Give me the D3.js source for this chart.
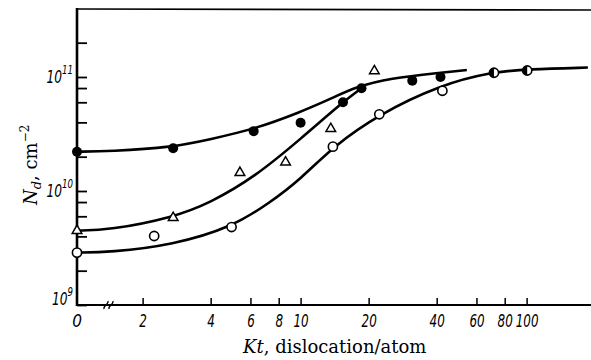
<!DOCTYPE html>
<html>
<head>
<meta charset="utf-8">
<script src="https://cdn.jsdelivr.net/npm/d3@7"></script>
<style>
  body { margin: 0; background: #fff; }
  svg { display: block; }
  .tick-lbl { font-family: 'Liberation Sans Narrow', 'DejaVu Sans Condensed', 'Liberation Sans', sans-serif; font-style: italic; }
  .title { font-family: 'DejaVu Serif', 'Liberation Serif', serif; }
</style>
</head>
<body>
<svg id="chart" width="591" height="360"></svg>
<script>
// measured points (Kt = 0 sits on the axis)
const filledKt = [0, 2.73, 6.2, 10.0, 15.4, 18.6, 31.2, 41.6];
const filledNd = [2.21e10, 2.37e10, 3.35e10, 3.97e10, 6.0e10, 7.96e10, 9.29e10, 1.0e11];

const triKt = [0, 2.73, 5.39, 8.58, 13.6, 21.2];
const triNd = [4.49e9, 5.83e9, 1.45e10, 1.79e10, 3.52e10, 1.13e11];

const openKt = [0, 2.25, 4.95, 13.9, 22.3, 42.4];
const openNd = [2.88e9, 4.03e9, 4.83e9, 2.45e10, 4.71e10, 7.57e10];

const halfKt = [71.7, 100.6];
const halfNd = [1.09e11, 1.14e11];

// fitted curves
const curveAKt = [0, 1.43, 2.72, 3.97, 6.28, 10, 13.5, 17.7, 24.8, 41.3, 54.4];
const curveANd = [2.21e10, 2.23e10, 2.42e10, 2.84e10, 3.5e10, 4.93e10, 6.41e10, 8.22e10, 9.75e10, 1.09e11, 1.15e11];

const curveBKt = [0, 1.43, 2.72, 3.97, 6.28, 10, 15.4, 18.6];
const curveBNd = [4.49e9, 4.55e9, 5.86e9, 7.85e9, 1.33e10, 2.86e10, 6.04e10, 7.96e10];

const curveCKt = [0, 1.43, 2.72, 5.02, 7.31, 10, 13.9, 22.2, 41.3, 70.9, 101, 186.7];
const curveCNd = [2.88e9, 2.9e9, 3.36e9, 4.86e9, 7.9e9, 1.27e10, 2.45e10, 4.71e10, 8.51e10, 1.11e11, 1.17e11, 1.21e11];

const xTicks = [2, 4, 6, 8, 10, 20, 40, 60, 80, 100];
const xTickLabels = ["2", "4", "6", "8", "10", "20", "40", "60", "80", "100"];
const yMinor = [1e9, 2e9, 4e9, 6e9, 8e9, 1e10, 2e10, 4e10, 6e10, 8e10, 1e11, 2e11];
const yLabelVals = [1e9, 1e10, 1e11];
const yLabelExp = ["9", "10", "11"];

const svg = d3.select("#chart");

const x = d3.scaleLog().domain([1.025, 192.7]).range([77, 591]);
const y = d3.scaleLog().domain([1e9, 3.87e11]).range([305, 10]);
const px = v => v === 0 ? x.range()[0] : x(v);

const zip = (a, b) => a.map((v, i) => [v, b[i]]);

// frame
svg.append("line").attr("x1", 77).attr("x2", 591).attr("y1", 9).attr("y2", 10)
  .attr("stroke", "#000").attr("stroke-width", 1.6);
svg.append("line").attr("x1", 77).attr("x2", 77).attr("y1", 8).attr("y2", 306)
  .attr("stroke", "#000").attr("stroke-width", 2.6);
svg.append("line").attr("x1", 76).attr("x2", 591).attr("y1", 305).attr("y2", 305)
  .attr("stroke", "#000").attr("stroke-width", 2);

// x axis
const xAxis = svg.append("g").attr("transform", "translate(0,305)")
  .call(d3.axisBottom(x).tickValues(xTicks).tickSize(-7).tickPadding(10)
    .tickFormat((d, i) => xTickLabels[i]));
xAxis.select(".domain").remove();
xAxis.selectAll(".tick line").attr("stroke-width", 1.5);
xAxis.selectAll("text").attr("class", "tick-lbl").attr("font-size", 17).attr("fill", "#000")
  .attr("transform", "scale(0.78,1)");
xAxis.append("text").attr("class", "tick-lbl").attr("x", 77).attr("y", 10).attr("dy", "0.71em")
  .attr("text-anchor", "middle").attr("font-size", 17).attr("fill", "#000").text("0");

// axis break marks
[106, 111].forEach(cx => {
  svg.append("path")
    .attr("d", `M${cx - 2},${309} C${cx - 3},${305} ${cx + 3},${305} ${cx + 2},${301}`)
    .attr("fill", "none").attr("stroke", "#000").attr("stroke-width", 1.4);
});

// y axis
const yAxis = svg.append("g").attr("transform", "translate(77,0)")
  .call(d3.axisLeft(y).tickValues(yMinor).tickSize(-10).tickFormat(""));
yAxis.select(".domain").remove();
yAxis.selectAll(".tick line").attr("stroke-width", 1.8);

yLabelVals.forEach((v, i) => {
  const t = svg.append("g").attr("transform", `translate(73,${y(v) + (i === 0 ? 0 : 6)})`)
    .append("text").attr("class", "tick-lbl").attr("font-size", 17)
    .attr("text-anchor", "end").attr("transform", "scale(0.8,1)");
  t.append("tspan").text("10");
  t.append("tspan").attr("dy", -9).attr("font-size", 12).text(yLabelExp[i]);
});

// curves
const line = d3.line().x(d => px(d[0])).y(d => y(d[1])).curve(d3.curveBasis);
[zip(curveAKt, curveANd), zip(curveBKt, curveBNd), zip(curveCKt, curveCNd)].forEach(c => {
  svg.append("path").attr("d", line(c)).attr("fill", "none")
    .attr("stroke", "#000").attr("stroke-width", 2.6);
});

// markers
svg.append("g").selectAll("circle").data(zip(filledKt, filledNd)).join("circle")
  .attr("cx", d => px(d[0])).attr("cy", d => y(d[1])).attr("r", 5).attr("fill", "#000");

svg.append("g").selectAll("circle").data(zip(openKt, openNd)).join("circle")
  .attr("cx", d => px(d[0])).attr("cy", d => y(d[1])).attr("r", 4.6)
  .attr("fill", "#fff").attr("stroke", "#000").attr("stroke-width", 1.6);

const tri = d3.symbol().type(d3.symbolTriangle).size(40);
svg.append("g").selectAll("path").data(zip(triKt, triNd)).join("path")
  .attr("transform", d => `translate(${px(d[0])},${y(d[1])})`)
  .attr("d", tri).attr("fill", "#fff").attr("stroke", "#000").attr("stroke-width", 1.5);

const half = svg.append("g").selectAll("g").data(zip(halfKt, halfNd)).join("g")
  .attr("transform", d => `translate(${px(d[0])},${y(d[1])})`);
half.append("circle").attr("r", 4.6).attr("fill", "#fff").attr("stroke", "#000").attr("stroke-width", 1.6);
half.append("path").attr("d", d3.arc()({innerRadius: 0, outerRadius: 4.6, startAngle: Math.PI, endAngle: 2 * Math.PI}))
  .attr("fill", "#000");

// axis titles
const xt = svg.append("text").attr("class", "title").attr("x", 243).attr("y", 353)
  .attr("font-size", 18).attr("fill", "#000");
xt.append("tspan").attr("font-style", "italic").text("Kt");
xt.append("tspan").text(", dislocation/atom");

const yt = svg.append("text").attr("class", "title")
  .attr("transform", "translate(37,205) rotate(-90)")
  .attr("font-size", 18).attr("fill", "#000");
yt.append("tspan").attr("font-style", "italic").text("N");
yt.append("tspan").attr("font-style", "italic").attr("font-size", 13).attr("dy", 4).text("d");
yt.append("tspan").attr("dy", -4).text(", cm");
yt.append("tspan").attr("font-size", 12).attr("dy", -8).text("\u22122");
</script>
</body>
</html>
